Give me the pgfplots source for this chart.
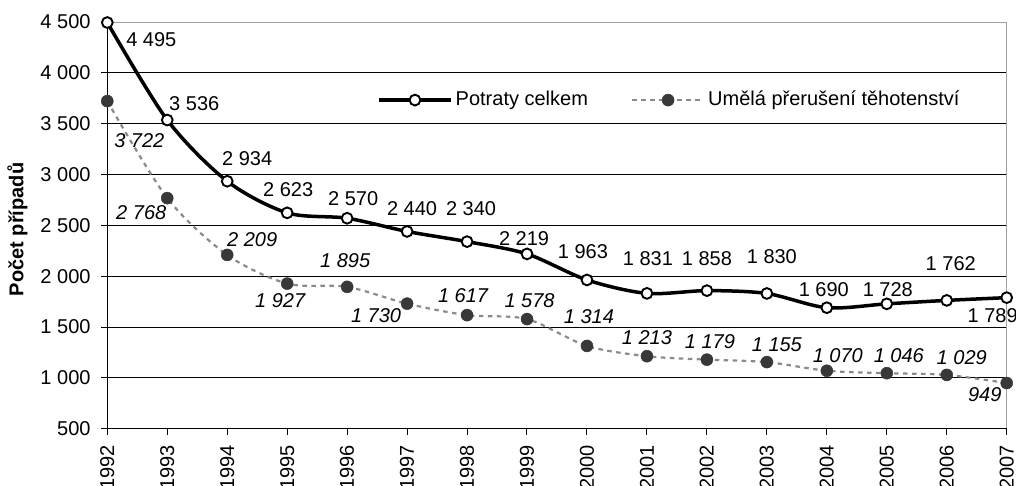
\documentclass[border=0pt]{standalone}
\usepackage{fontspec}
\setmainfont{Liberation Sans}
\usepackage{pgfplots}
\usepackage{pgfplotstable}
\pgfplotsset{compat=1.18}
\definecolor{dotc}{HTML}{383838}
\definecolor{dashc}{HTML}{8A8A8A}
\definecolor{framec}{HTML}{A0A0A0}

\pgfplotstableread{
year val dx dy
1992 4495 44 -17.5
1993 3536 27 16.5
1994 2934 20 22.7
1995 2623 1 23
1996 2570 6 20
1997 2440 5 23
1998 2340 4 33
1999 2219 -3 15.5
2000 1963 -4 28
2001 1831 1 35
2002 1858 0 32
2003 1830 5 37
2004 1690 -3 18
2005 1728 1 14
2006 1762 4 37
2007 1789 -14 -17.5
}\celkem

\pgfplotstableread{
year val dx dy
1992 3722 32 -40
1993 2768 -26 -14.5
1994 2209 25 15.5
1995 1927 -7 -17
1996 1895 -2 26
1997 1730 -31 -12
1998 1617 -4 19.5
1999 1578 2.5 18.5
2000 1314 2 29.5
2001 1213 0 18.7
2002 1179 3 17.7
2003 1155 10 17.5
2004 1070 11 15
2005 1046 12 17.5
2006 1029 15 17.5
2007 949 -22 -11.5
}\umela

\begin{document}
\fontsize{20}{24}\selectfont
\begin{tikzpicture}
\begin{axis}[
  at={(0,0)}, anchor=south west,
  scale only axis, width=899.4pt, height=406.7pt,
  xmin=1992, xmax=2007, ymin=500, ymax=4500,
  xtick={1992,...,2007}, ytick={500,1000,...,4500},
  clip=false,
  /pgf/number format/assume math mode=true,
  /pgf/number format/1000 sep={\ },
  xticklabel style={/pgf/number format/1000 sep={}, rotate=90, anchor=east, inner sep=0pt},
  yticklabel style={anchor=east, inner sep=0pt},
  xticklabel shift=10pt,
  yticklabel shift=10.6pt,
  tick pos=left, tick align=outside, major tick length=6pt,
  tick style={black, line width=1pt},
  axis line style={framec, line width=1pt},
  ymajorgrids, grid style={black, line width=0.8pt},
  every axis y label/.style={at={(axis description cs:-0.0998,0.49)}, anchor=center, rotate=90, font=\bfseries},
  ylabel={Počet případů},
  legend style={at={(axis description cs:0.2999,0.808)}, anchor=west, draw=none, fill=none,
    inner sep=0pt, nodes={inner sep=3pt},
    /tikz/every even column/.append style={column sep=40pt}},
  legend columns=2,
  legend image code/.code={\draw[mark repeat=2, mark phase=2, #1] plot coordinates {(0pt,0pt) (36pt,0pt) (72pt,0pt)};},
]
\draw[black, line width=1.4pt] (rel axis cs:0,1) -- (rel axis cs:0,0) -- (rel axis cs:1,0);

\addplot[black, line width=3.5pt, smooth, tension=0.5,
  mark=*, mark size=5.4pt, mark options={fill=white, draw=black, line width=1.9pt},
  nodes near coords,
  visualization depends on={\thisrow{dx} \as \lblx},
  visualization depends on={\thisrow{dy} \as \lbly},
  every node near coord/.append style={anchor=center, xshift=\lblx pt, yshift=\lbly pt, text=black}
] table[x=year, y=val] {\celkem};
\addlegendentry{Potraty celkem}

\addplot[dashc, line width=2.2pt, dash pattern=on 4.5pt off 4.5pt, smooth, tension=0.5,
  mark=*, mark size=6pt, mark options={solid, fill=dotc, draw=dotc, line width=0.5pt},
  nodes near coords,
  visualization depends on={\thisrow{dx} \as \lblx},
  visualization depends on={\thisrow{dy} \as \lbly},
  every node near coord/.append style={anchor=center, xshift=\lblx pt, yshift=\lbly pt, text=black, font=\itshape}
] table[x=year, y=val] {\umela};
\addlegendentry{Umělá přerušení těhotenství}
\end{axis}
\pgfresetboundingbox
\path[use as bounding box] (-107.3pt,-56.3pt) rectangle (908.7pt,428.7pt);
\end{tikzpicture}
\end{document}
